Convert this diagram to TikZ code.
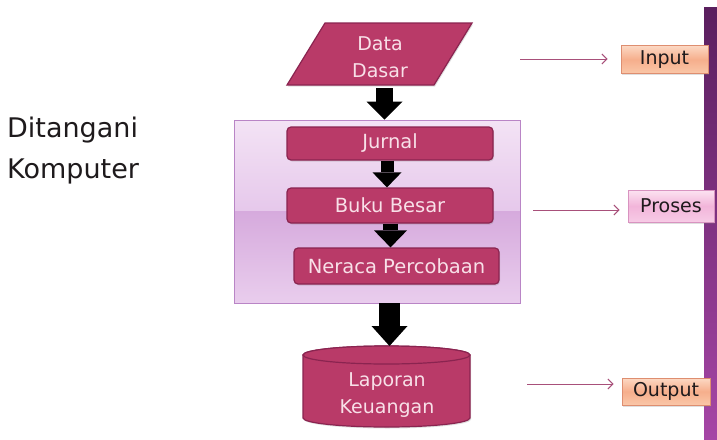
\documentclass[tikz,border=0pt]{standalone}
\usepackage{fontspec}
\setmainfont{DejaVu Sans}
\usetikzlibrary{arrows.meta,shadows,calc}
\definecolor{crim}{HTML}{B93A68}
\definecolor{crimdark}{HTML}{8A2450}
\definecolor{boxtext}{HTML}{F8E0E8}
\definecolor{lavtopA}{HTML}{F3E3F5}
\definecolor{lavtopB}{HTML}{E6C8EB}
\definecolor{lavbotA}{HTML}{D6AADD}
\definecolor{lavbotB}{HTML}{E9CDED}
\definecolor{lavedge}{HTML}{B985C6}
\definecolor{thinc}{HTML}{A8507A}
\definecolor{orgtop}{HTML}{FCD9C4}
\definecolor{orgmid}{HTML}{F6AE8C}
\definecolor{orgbot}{HTML}{FAC7A8}
\definecolor{orgedge}{HTML}{DE8E70}
\definecolor{pnktop}{HTML}{FCE3F1}
\definecolor{pnkmid}{HTML}{F2B5DA}
\definecolor{pnkbot}{HTML}{F7CBE6}
\definecolor{pnkedge}{HTML}{D893C0}
\definecolor{bartop}{HTML}{5A1F5E}
\definecolor{barbot}{HTML}{A646A6}
\definecolor{ink}{HTML}{1E1A1C}
\begin{document}
\begin{tikzpicture}[x=1pt,y=-1pt,
  crimshape/.style={draw=crimdark, line width=1.2pt, fill=crim,
    drop shadow={opacity=0.25, shadow xshift=1pt, shadow yshift=-1.5pt}},
  crimbox/.style={crimshape, rounded corners=4pt, text=boxtext, inner sep=0pt,
    font=\fontsize{19.5}{26}\selectfont},
  boxtxt/.style={text=boxtext, align=center, inner sep=0pt,
    font=\fontsize{19}{27}\selectfont},
  blockarrow/.style args={#1/#2/#3}{draw=black, line width=#1,
    -{Triangle[length=#2, width=#3, line width=0pt]}},
  thinarrow/.style={draw=thinc, line width=1pt, -{Straight Barb[length=5pt, width=10pt]}},
  lblbox/.style={inner sep=0pt, text=ink, font=\fontsize{19}{22}\selectfont,
    drop shadow={opacity=0.25, shadow xshift=1pt, shadow yshift=-1.5pt}},
  orangebox/.style={lblbox, draw=orgedge, line width=0.8pt, top color=orgtop, bottom color=orgbot, middle color=orgmid},
  pinkbox/.style={lblbox, draw=pnkedge, line width=0.8pt, top color=pnktop, bottom color=pnkbot, middle color=pnkmid},
  lefttxt/.style={anchor=base west, inner sep=0pt, text=ink, font=\fontsize{27}{30}\selectfont}
]
\useasboundingbox (0,0) rectangle (717,439);
\fill[white] (0,0) rectangle (717,439);

% right bar
\shade[top color=bartop, bottom color=barbot] (704,7) rectangle (717,439);

% left label
\node[lefttxt] (dit) at (7,137) {Ditangani};
\node[lefttxt] (kom) at (7,178) {Komputer};

% Data Dasar parallelogram
\path[crimshape] (325,23) -- (472,23) -- (434,85) -- (287,85) -- cycle;
\node[boxtxt, minimum width=147pt, minimum height=62pt] (data) at (380,57) {Data\\Dasar};

% process box
\shade[top color=lavtopA, bottom color=lavtopB] (234,120) rectangle (520,211);
\shade[top color=lavbotA, bottom color=lavbotB] (234,211) rectangle (520,303);
\node[draw=lavedge, line width=0.8pt, minimum width=286pt, minimum height=183pt, inner sep=0pt] (proc) at (377,211.5) {};

\node[crimbox, minimum width=206pt, minimum height=33pt] (jur) at (390,143.5) {Jurnal};
\node[crimbox, minimum width=206pt, minimum height=35pt] (bb) at (390,205.5) {Buku Besar};
\node[crimbox, minimum width=205pt, minimum height=36pt] (ner) at (396.5,266) {Neraca Percobaan};

% cylinder
\path[crimshape] (303,355) -- (303,418)
   arc[start angle=180, end angle=360, x radius=83.5pt, y radius=9pt]
   -- (470,355)
   arc[start angle=0, end angle=180, x radius=83.5pt, y radius=9pt] -- cycle;
\draw[draw=crimdark, line width=1.2pt, fill=crim] (386.5,355) ellipse [x radius=83.5pt, y radius=9pt];
\coordinate (lapTop) at (386.5,346);
\node[boxtxt] (lap) at (387,395) {Laporan\\Keuangan};

% block arrows
\draw[blockarrow=17pt/18pt/36pt] ([xshift=4.5pt]data.south) -- ([xshift=4.5pt]data.south |- proc.north);
\draw[blockarrow=13pt/15pt/29pt] ([xshift=-3pt]jur.south) -- ([xshift=-3pt]jur.south |- bb.north);
\draw[blockarrow=15pt/17pt/33pt] ([xshift=0.5pt]bb.south) -- ([xshift=0.5pt]bb.south |- ner.north);
\draw[blockarrow=21pt/20pt/36pt] ([xshift=12.5pt]proc.south) -- ([xshift=12.5pt]proc.south |- lapTop);

% right labels
\node[orangebox, minimum width=87pt, minimum height=28pt] (inp) at (664.5,59.5) {Input};
\node[pinkbox, minimum width=86pt, minimum height=32pt] (pros) at (671,206) {Proses};
\node[orangebox, minimum width=88pt, minimum height=27pt] (outp) at (666,391.5) {Output};

\coordinate (inA) at (520,59);
\coordinate (prA) at (533,210);
\coordinate (outA) at (527,384);
\draw[thinarrow, shorten >=13pt] (inA) -- (inA -| inp.west);
\draw[thinarrow, shorten >=8pt] (prA) -- (prA -| pros.west);
\draw[thinarrow, shorten >=8pt] (outA) -- (outA -| outp.west);
\end{tikzpicture}
\end{document}
